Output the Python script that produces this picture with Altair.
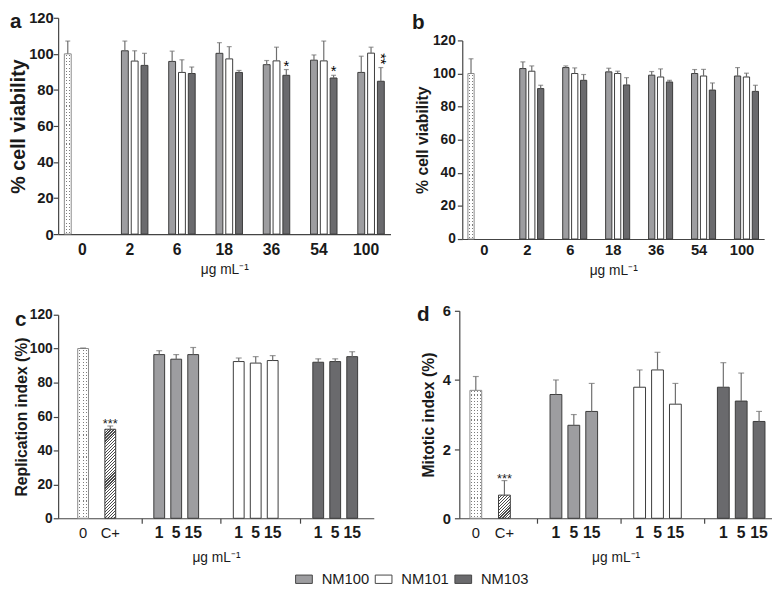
import altair as alt
import pandas as pd

FONT = "Liberation Sans"
INK = "#1a1a1a"
AXIS = "#444444"
EDGE = "#3a3a3a"
ERR = "#6e6e6e"
CLEAR = "rgba(255,255,255,0)"

# ---------------- categories ----------------
doses_ab = ["0", "2", "6", "18", "36", "54", "100"]
treated_ab = ["2", "6", "18", "36", "54", "100"]
nm_names = ["NM100", "NM101", "NM103"]
ctrl_labels_cd = ["0", "C+"]
conc_cd = ["1", "5", "15"]

# ---------------- panel a: % cell viability ----------------
a_ctrl = 100.0
a_ctrl_err = 7.1
a_nm100 = [101.7, 95.8, 100.3, 94.0, 96.5, 89.7]
a_nm100_err = [5.4, 5.7, 5.9, 2.3, 2.9, 9.0]
a_nm101 = [96.0, 89.7, 97.2, 96.1, 96.1, 100.4]
a_nm101_err = [5.7, 7.0, 6.8, 7.6, 11.0, 3.3]
a_nm103 = [93.6, 89.1, 89.7, 88.1, 86.6, 84.8]
a_nm103_err = [6.7, 3.6, 1.1, 3.2, 1.5, 7.6]
a_nm103_sig = ["", "", "", "*", "*", "**"]

# ---------------- panel b: % cell viability ----------------
b_ctrl = 100.0
b_ctrl_err = 8.9
b_nm100 = [103.0, 103.6, 101.0, 99.0, 100.0, 98.5]
b_nm100_err = [4.0, 1.0, 2.2, 2.2, 2.4, 5.1]
b_nm101 = [101.4, 100.0, 100.0, 97.9, 98.5, 97.9]
b_nm101_err = [3.2, 3.4, 1.4, 4.9, 4.0, 2.3]
b_nm103 = [90.9, 95.9, 93.1, 94.9, 90.0, 89.2]
b_nm103_err = [2.0, 3.5, 4.4, 1.0, 4.3, 3.7]

# ---------------- panel c: replication index ----------------
c_ctrl = [100.1, 52.5]
c_ctrl_err = [0.3, 1.9]
c_ctrl_sig = ["", "***"]
c_nm100 = [96.5, 93.8, 96.5]
c_nm100_err = [2.3, 2.7, 4.2]
c_nm101 = [92.4, 91.5, 93.0]
c_nm101_err = [2.1, 3.8, 2.9]
c_nm103 = [92.0, 92.4, 95.3]
c_nm103_err = [2.0, 1.6, 2.9]

# ---------------- panel d: mitotic index ----------------
d_ctrl = [3.70, 0.67]
d_ctrl_err = [0.40, 0.42]
d_ctrl_sig = ["", "***"]
d_nm100 = [3.58, 2.69, 3.09]
d_nm100_err = [0.42, 0.31, 0.81]
d_nm101 = [3.79, 4.29, 3.30]
d_nm101_err = [0.50, 0.51, 0.60]
d_nm103 = [3.79, 3.39, 2.80]
d_nm103_err = [0.71, 0.81, 0.29]


def ab_frame(ctrl, ctrl_err, vals, errs, sigs):
    rows = [dict(dose="0", series="Control", value=ctrl, err=ctrl_err, sig="")]
    for name, vv, ee, ss in zip(nm_names, vals, errs, sigs):
        for d, v, e, s in zip(treated_ab, vv, ee, ss):
            rows.append(dict(dose=d, series=name, value=v, err=e, sig=s))
    return pd.DataFrame(rows)


def cd_frame(ctrl, ctrl_err, ctrl_sig, vals, errs):
    rows = []
    for lab, v, e, s in zip(ctrl_labels_cd, ctrl, ctrl_err, ctrl_sig):
        rows.append(dict(group="Ctrl", slot=lab, series="Control" if lab == "0" else "C+",
                         value=v, err=e, sig=s))
    for name, vv, ee in zip(nm_names, vals, errs):
        for d, v, e in zip(conc_cd, vv, ee):
            rows.append(dict(group=name, slot=d, series=name, value=v, err=e, sig=""))
    return pd.DataFrame(rows)


blank = [""] * 6
df_a = ab_frame(a_ctrl, a_ctrl_err, [a_nm100, a_nm101, a_nm103],
                [a_nm100_err, a_nm101_err, a_nm103_err], [blank, blank, a_nm103_sig])
df_b = ab_frame(b_ctrl, b_ctrl_err, [b_nm100, b_nm101, b_nm103],
                [b_nm100_err, b_nm101_err, b_nm103_err], [blank, blank, blank])
df_c = cd_frame(c_ctrl, c_ctrl_err, c_ctrl_sig, [c_nm100, c_nm101, c_nm103],
                [c_nm100_err, c_nm101_err, c_nm103_err])
df_d = cd_frame(d_ctrl, d_ctrl_err, d_ctrl_sig, [d_nm100, d_nm101, d_nm103],
                [d_nm100_err, d_nm101_err, d_nm103_err])

series_order = ["Control", "C+", "NM100", "NM101", "NM103"]
fill_range = ["#ffffff", "#b8b8b8", "#9d9da0", "#ffffff", "#6a6a6d"]

legend = alt.Legend(
    values=nm_names, orient="none", legendX=241, legendY=562, direction="horizontal",
    title=None, symbolType="M-1,-0.5H1V0.5H-1Z", symbolSize=289,
    symbolStrokeColor="#444444", symbolStrokeWidth=1, labelFontSize=15,
    labelFont=FONT, labelColor=INK, labelOffset=9, columnPadding=3, padding=0,
)


def color_enc():
    return alt.Color("series:N", scale=alt.Scale(domain=series_order, range=fill_range),
                     legend=legend)


def hatch(bar_w, bar_h, period=3.0, ink=0.4):
    """Diagonal '////' hatch as a striped linear gradient in bar-box units."""
    k = (bar_w + bar_h) / (bar_w ** 2 + bar_h ** 2)
    n = int((bar_w + bar_h) / period) + 1
    p = 1.0 / n
    stops = []
    for i in range(n):
        s = i * p
        stops += [
            {"offset": s, "color": "#4a4a4a"},
            {"offset": s + ink * p, "color": "#4a4a4a"},
            {"offset": s + ink * p, "color": "#ffffff"},
            {"offset": min(1.0, s + p), "color": "#ffffff"},
        ]
    return {"gradient": "linear", "x1": 0, "y1": 0, "x2": k * bar_w, "y2": k * bar_h,
            "stops": stops}


def stripes(n, on_color, off_color, on_frac, along_x):
    """n evenly spaced stripes across the bar box (used to build a dot screen)."""
    p = 1.0 / n
    stops = []
    for i in range(n):
        s = i * p
        lo = s + (1 - on_frac) / 2 * p
        hi = s + (1 + on_frac) / 2 * p
        stops += [
            {"offset": s, "color": off_color},
            {"offset": lo, "color": off_color},
            {"offset": lo, "color": on_color},
            {"offset": hi, "color": on_color},
            {"offset": hi, "color": off_color},
            {"offset": min(1.0, s + p), "color": off_color},
        ]
    g = {"gradient": "linear", "x1": 0, "y1": 0, "stops": stops}
    if along_x:
        g.update(x2=1, y2=0)
    else:
        g.update(x2=0, y2=1)
    return g


def dotted_layers(base, enc, bar_w, bar_h, fixed_width=None):
    """Control bar drawn as grey dots on white: dotted columns + a white mask with gaps."""
    nx = max(2, round(bar_w / 3.2))
    ny = max(2, round(bar_h / 3.2))
    kw = {} if fixed_width is None else {"width": fixed_width}
    ctrl = base.transform_filter("datum.series == 'Control'")
    cols = ctrl.mark_bar(fill=stripes(nx, "#7d7d7d", CLEAR, 1.0 / (bar_w / nx), True),
                         strokeWidth=0, **kw).encode(**enc)
    mask = ctrl.mark_bar(fill=stripes(ny, CLEAR, "#ffffff", 0.34, False),
                         stroke="#8a8a8a", strokeWidth=1, **kw).encode(**enc)
    return [cols, mask]


def letter_layer(letter, dx, dy):
    return alt.Chart(pd.DataFrame({"t": [letter]})).mark_text(
        align="left", baseline="top", fontSize=21, fontWeight="bold", color=INK
    ).encode(x=alt.value(dx), y=alt.value(dy), text="t:N")


def panel_ab(df, letter, width, height, ytop, ldx, ldy, ylab_fs, ytitle_fs, ylab_pad,
             ytitle_pad, xlab_fs, xlab_pad, xtitle_pad):
    base = alt.Chart(df).transform_calculate(hi="datum.value + datum.err")
    pin, pout, oin, oout = 0.17, 0.1, 0.3, 0.15
    x = alt.X("dose:N", sort=doses_ab,
              scale=alt.Scale(domain=doses_ab, paddingInner=pin, paddingOuter=pout),
              axis=alt.Axis(title="μg mL⁻¹", labelAngle=0, ticks=False, labelFontSize=xlab_fs,
                            labelFontWeight="bold", labelPadding=xlab_pad, titleFontSize=14,
                            titleFontWeight="normal", titlePadding=xtitle_pad))
    xo = alt.XOffset("series:N",
                     scale=alt.Scale(domain=["Control"] + nm_names, paddingInner=oin,
                                     paddingOuter=oout))
    yscale = alt.Scale(domain=[0, 120], nice=False, range=[height, ytop])
    yaxis = alt.Axis(values=list(range(0, 121, 20)), title="% cell viability",
                     labelFontSize=ylab_fs, labelFontWeight="bold", titleFontSize=ytitle_fs,
                     titleFontWeight="bold", labelPadding=ylab_pad, titlePadding=ytitle_pad,
                     tickSize=5)
    yv = alt.Y("value:Q", scale=yscale, axis=yaxis)
    bars = base.transform_filter("datum.series != 'Control'").mark_bar(
        stroke=EDGE, strokeWidth=1).encode(x=x, xOffset=xo, y=yv, color=color_enc())
    step = width / (len(doses_ab) - pin + 2 * pout)
    bar_w = step * (1 - pin) / (4 - oin + 2 * oout) * (1 - oin)
    ctrl_h = df.loc[df.series == "Control", "value"].iloc[0] / 120 * (height - ytop)
    dots = dotted_layers(base, dict(x=x, xOffset=xo, y=yv), bar_w, ctrl_h)
    rules = base.mark_rule(color=ERR, strokeWidth=1.2).encode(
        x=x, xOffset=xo, y=yv, y2="hi:Q")
    caps = base.mark_tick(color=ERR, thickness=1.2, size=5).encode(
        x=x, xOffset=xo, y=alt.Y("hi:Q", scale=yscale, axis=yaxis))
    star1 = base.transform_filter("datum.sig == '*'").mark_text(
        fontSize=15, baseline="alphabetic", color="#000000", dy=1).encode(
        x=x, xOffset=xo, y=alt.Y("hi:Q", scale=yscale, axis=yaxis), text="sig:N")
    star2 = base.transform_filter("datum.sig == '**'").mark_text(
        fontSize=15, angle=90, align="right", baseline="middle", color="#000000", dx=-3).encode(
        x=x, xOffset=xo, y=alt.Y("hi:Q", scale=yscale, axis=yaxis), text="sig:N")
    return alt.layer(bars, *dots, rules, caps, star1, star2,
                     letter_layer(letter, ldx, ldy)).properties(width=width, height=height)


slot_domain = ["1", "0", "_a", "_b", "_c", "5", "_d", "_e", "_f", "C+", "15"]
groups_cd = ["Ctrl"] + nm_names


def panel_cd(df, letter, width, height, ytop, ldx, ldy, ymax, yvals, ytitle, bar_w,
             ylab_fs, ylab_pad, ytitle_pad, pad_in, pad_out):
    base = alt.Chart(df).transform_calculate(hi="datum.value + datum.err")
    x = alt.X("group:N", sort=groups_cd,
              scale=alt.Scale(domain=groups_cd, paddingInner=pad_in, paddingOuter=pad_out),
              axis=alt.Axis(title="μg mL⁻¹", labels=False, values=nm_names, bandPosition=-0.42,
                            tickSize=5, titleFontSize=14, titleFontWeight="normal",
                            titlePadding=27))
    xo = alt.XOffset("slot:N", scale=alt.Scale(domain=slot_domain, paddingInner=0,
                                               paddingOuter=0))
    yscale = alt.Scale(domain=[0, ymax], nice=False, range=[height, ytop])
    yaxis = alt.Axis(values=yvals, title=ytitle, labelFontSize=ylab_fs, labelFontWeight="bold",
                     titleFontSize=16, titleFontWeight="bold", labelPadding=ylab_pad,
                     titlePadding=ytitle_pad, tickSize=5)
    yv = alt.Y("value:Q", scale=yscale, axis=yaxis)
    bars = base.transform_filter("datum.series != 'Control' && datum.series != 'C+'").mark_bar(
        stroke=EDGE, strokeWidth=1, width=bar_w).encode(
        x=x, xOffset=xo, y=yv, color=color_enc())
    px = (height - ytop) / ymax
    cplus_h = df.loc[df.series == "C+", "value"].iloc[0] * px
    ctrl_h = df.loc[df.series == "Control", "value"].iloc[0] * px
    hatched = base.transform_filter("datum.series == 'C+'").mark_bar(
        stroke=EDGE, strokeWidth=1, width=bar_w, fill=hatch(bar_w, cplus_h)).encode(
        x=x, xOffset=xo, y=yv)
    dots = dotted_layers(base, dict(x=x, xOffset=xo, y=yv), bar_w, ctrl_h, fixed_width=bar_w)
    rules = base.mark_rule(color=ERR, strokeWidth=1.2).encode(
        x=x, xOffset=xo, y=yv, y2="hi:Q")
    caps = base.mark_tick(color=ERR, thickness=1.2, size=6).encode(
        x=x, xOffset=xo, y=alt.Y("hi:Q", scale=yscale, axis=yaxis))
    stars = base.transform_filter("datum.sig != ''").mark_text(
        fontSize=13, baseline="alphabetic", color=INK, dy=2).encode(
        x=x, xOffset=xo, y=alt.Y("hi:Q", scale=yscale, axis=yaxis), text="sig:N")
    lab_ctrl = base.transform_filter("datum.group == 'Ctrl'").mark_text(
        fontSize=15, fontWeight="normal", baseline="middle", color=INK).encode(
        x=x, xOffset=xo, y=alt.value(height + 15), text="slot:N")
    lab_nm = base.transform_filter("datum.group != 'Ctrl'").mark_text(
        fontSize=16, fontWeight="bold", baseline="middle", color=INK).encode(
        x=x, xOffset=xo, y=alt.value(height + 15), text="slot:N")
    return alt.layer(bars, hatched, *dots, rules, caps, stars, lab_ctrl, lab_nm,
                     letter_layer(letter, ldx, ldy)).properties(width=width, height=height)


# top row: both views share the top edge; b's axis starts lower
pa = panel_ab(df_a, "a", 338, 220, 0, -49, -7, 15, 20, 0, 0, 16, 8, 5)
pb = panel_ab(df_b, "b", 307, 225, 23, -51, -6, 14, 16, 2, 2, 15, 4, 6)
# bottom row: c's axis starts a little lower than d's
pc = panel_cd(df_c, "c", 321, 211, 4, -44, -2, 120, list(range(0, 121, 20)),
              "Replication index (%)", 11, 14, 1, 0, 0.53, 0.25)
pd_ = panel_cd(df_d, "d", 318, 211, 0, -43, -7, 6, [0, 2, 4, 6],
               "Mitotic index (%)", 12, 15, 4, 6, 0.53, 0.133)

chart = alt.vconcat(
    alt.hconcat(pa, pb, spacing=22).resolve_scale(xOffset="independent"),
    alt.hconcat(pc, pd_, spacing=44).resolve_scale(xOffset="independent"),
    spacing=27,
).resolve_scale(
    xOffset="independent"
).properties(
    padding={"left": 0, "top": -2, "right": 0, "bottom": 0}
).configure(
    font=FONT
).configure_view(
    stroke=None
).configure_axis(
    grid=False, domainColor=AXIS, tickColor=AXIS, labelColor=INK, titleColor=INK,
    labelFont=FONT, titleFont=FONT, domainWidth=1.2, tickWidth=1.2
).configure_text(font=FONT)

chart.save("out.html", embed_options={"renderer": "svg", "actions": False})
